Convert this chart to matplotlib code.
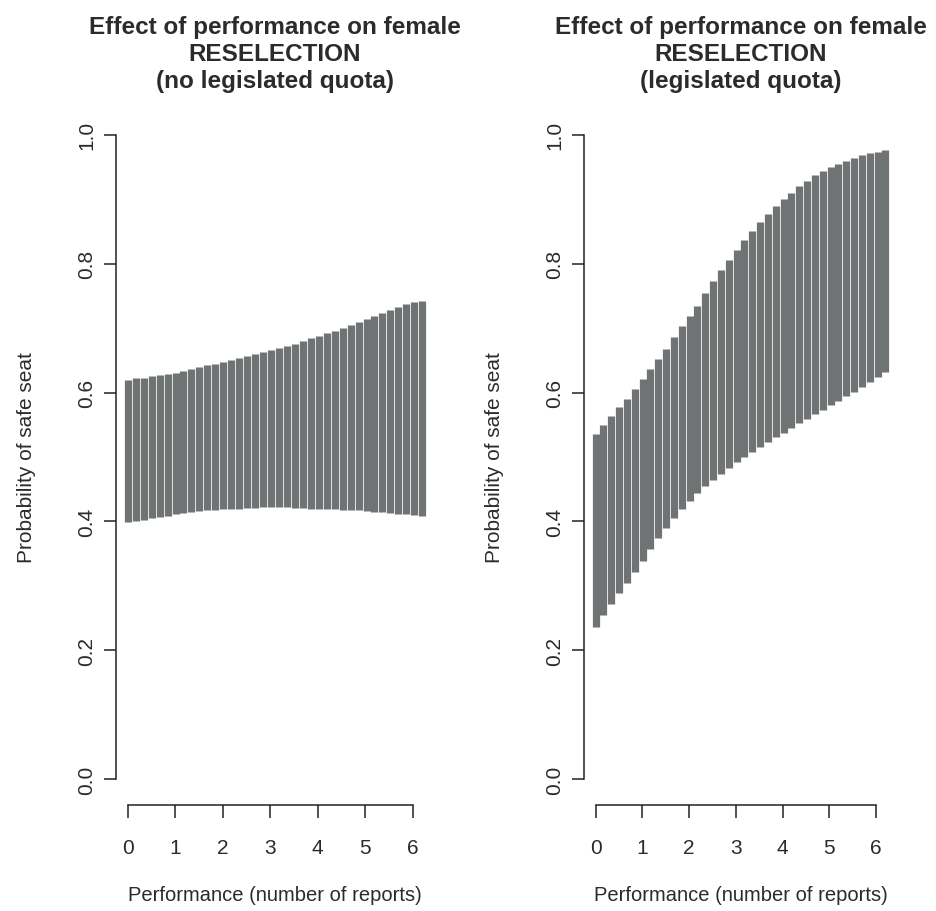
import matplotlib
matplotlib.use("Agg")
import matplotlib.pyplot as plt
import numpy as np

# performance grid (number of reports)
perf = np.linspace(0, 6.2, 38)

# no legislated quota: interval for probability of safe seat
noquota_hi = [0.620, 0.622, 0.623, 0.625, 0.627, 0.629, 0.631, 0.633, 0.636, 0.639,
              0.642, 0.645, 0.648, 0.651, 0.654, 0.657, 0.660, 0.663, 0.666, 0.669,
              0.673, 0.676, 0.680, 0.684, 0.688, 0.692, 0.696, 0.700, 0.705, 0.710,
              0.714, 0.719, 0.724, 0.728, 0.733, 0.737, 0.740, 0.742]
noquota_lo = [0.399, 0.401, 0.403, 0.405, 0.407, 0.409, 0.411, 0.413, 0.414, 0.416,
              0.417, 0.418, 0.419, 0.419, 0.420, 0.421, 0.421, 0.422, 0.422, 0.422,
              0.422, 0.421, 0.421, 0.420, 0.420, 0.419, 0.419, 0.418, 0.418, 0.417,
              0.416, 0.415, 0.414, 0.413, 0.412, 0.411, 0.410, 0.409]

# legislated quota
quota_hi = [0.536, 0.549, 0.563, 0.577, 0.590, 0.605, 0.621, 0.637, 0.652, 0.668,
            0.686, 0.703, 0.719, 0.735, 0.754, 0.773, 0.790, 0.806, 0.821, 0.836,
            0.850, 0.864, 0.877, 0.889, 0.900, 0.910, 0.920, 0.929, 0.937, 0.944,
            0.950, 0.955, 0.960, 0.964, 0.968, 0.971, 0.974, 0.977]
quota_lo = [0.236, 0.255, 0.272, 0.289, 0.305, 0.322, 0.339, 0.357, 0.374, 0.390,
            0.405, 0.419, 0.432, 0.444, 0.455, 0.465, 0.474, 0.483, 0.492, 0.500,
            0.508, 0.516, 0.523, 0.531, 0.538, 0.545, 0.552, 0.559, 0.566, 0.573,
            0.580, 0.587, 0.594, 0.601, 0.608, 0.617, 0.624, 0.632]

titles = ["Effect of performance on female\nRESELECTION\n(no legislated quota)",
          "Effect of performance on female\nRESELECTION\n(legislated quota)"]
xticks = [0, 1, 2, 3, 4, 5, 6]
yticks = [0.0, 0.2, 0.4, 0.6, 0.8, 1.0]

plt.rcParams['font.family'] = ['Liberation Sans', 'DejaVu Sans']
textcol = "#2b2b2b"

fig = plt.figure(figsize=(9.37, 9.12), dpi=100)
ax1 = fig.add_axes([0.1238, 0.1162, 0.3394, 0.7632])
ax2 = fig.add_axes([0.6233, 0.1162, 0.3340, 0.7632])

for ax, lo, hi, title in [(ax1, noquota_lo, noquota_hi, titles[0]),
                          (ax2, quota_lo, quota_hi, titles[1])]:
    ax.vlines(perf, lo, hi, color="#6f7374", linewidth=5.2)
    ax.set_xlim(-0.248, 6.448)
    ax.set_ylim(-0.04, 1.04)
    ax.spines['top'].set_visible(False)
    ax.spines['right'].set_visible(False)
    ax.spines['left'].set_bounds(0, 1)
    ax.spines['bottom'].set_bounds(0, 6)
    for s in ['left', 'bottom']:
        ax.spines[s].set_linewidth(1.1)
        ax.spines[s].set_color("#222222")
    ax.set_xticks(xticks)
    ax.set_yticks(yticks)
    ax.set_yticklabels(["%.1f" % v for v in yticks], rotation=90, va='center')
    ax.tick_params(length=9, width=1.1, labelsize=15, colors="#222222",
                   labelcolor=textcol)
    ax.tick_params(axis='x', pad=15)
    ax.tick_params(axis='y', pad=5)
    ax.set_xlabel("Performance (number of reports)", fontsize=14.5, color=textcol,
                  labelpad=20)
    ax.set_ylabel("Probability of safe seat", fontsize=15, color=textcol,
                  labelpad=30)
    ax.set_title(title, fontsize=17.5, fontweight='bold', color=textcol,
                 linespacing=1.22, pad=16)

fig.savefig("out.png", dpi=100)
